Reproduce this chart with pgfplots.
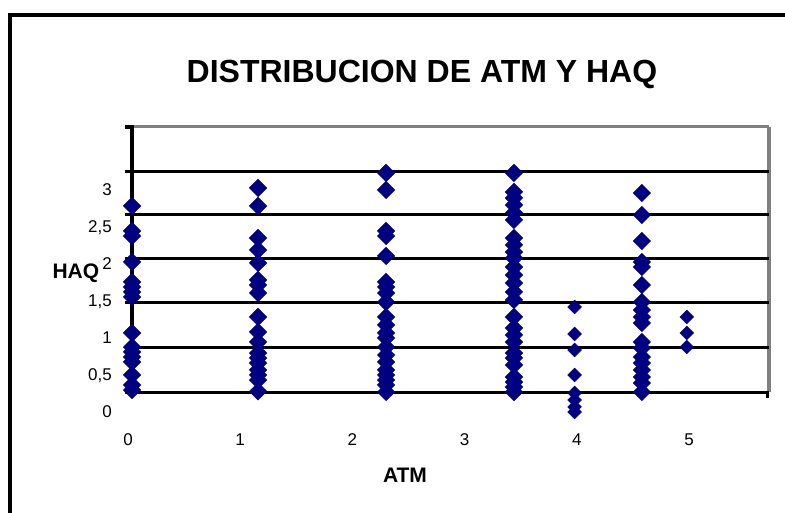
\documentclass[border=0pt]{standalone}
\usepackage{pgfplots}
\pgfplotsset{compat=1.18}
\usepackage{fontspec}
\setmainfont{Liberation Sans}
\definecolor{navy}{HTML}{000080}
\definecolor{xlgray}{HTML}{808080}

\begin{document}
\begin{tikzpicture}
% outer chart frame (cut by the page on the right and bottom)
\draw[line width=4pt] (10pt,-10pt) -- (10pt,498pt) -- (800pt,498pt);
\node[anchor=base, font=\fontsize{32}{38}\selectfont\bfseries] at (422pt,430pt) {DISTRIBUCION DE ATM Y HAQ};
\node[anchor=base west, font=\fontsize{21}{25}\selectfont\bfseries] at (49pt,234pt) {HAQ};
\node[anchor=base, font=\fontsize{21}{25}\selectfont\bfseries] at (405pt,30pt) {ATM};

\begin{axis}[
    at={(128pt,101pt)}, anchor=south west,
    scale only axis, width=641pt, height=285pt,
    xmin=0, xmax=5.713, ymin=0, ymax=3.851,
    axis line style={draw=none},
    clip=false, set layers,
    xtick={0,1,2,3,4,5},
    xticklabels={0,1,2,3,4,5},
    ytick={0,0.5,1,1.5,2,2.5,3},
    yticklabels={0,{0,5},1,{1,5},2,{2,5},3},
    major tick length=0pt,
    tick label style={font=\fontsize{17}{20}\selectfont},
    xticklabel style={anchor=base, inner sep=0pt, yshift=-34pt},
    yticklabel style={anchor=base east, inner sep=0pt, xshift=-16pt, yshift=-6pt},
    big/.style={only marks, mark=square*, mark size=6.2pt,
        mark options={rotate=45, fill=navy, draw=navy}},
    small/.style={only marks, mark=square*, mark size=4.9pt,
        mark options={rotate=45, fill=navy, draw=navy}},
    ]
\begin{pgfonlayer}{axis background}
\draw[xlgray, line width=3pt] (axis cs:0.036,3.851) -- (axis cs:5.713,3.851);
\draw[xlgray, line width=4pt] (axis cs:5.713,3.851) -- (axis cs:5.713,0.270);
\pgfplotsinvokeforeach{0.865,1.473,2.068,2.662,3.243}{
  \draw[line width=3pt] (axis cs:-0.027,#1) -- (axis cs:5.713,#1);
}
\draw[line width=3pt] (axis cs:-0.027,0.270) -- (axis cs:5.700,0.270) -- ++(0pt,-6pt);
\draw[line width=3.5pt] (axis cs:0.036,0.270) -- (axis cs:0.036,3.851) -- ++(-7pt,0pt);
\end{pgfonlayer}

% ATM 0
\addplot[big] coordinates {
 (0.036,2.784) (0.036,2.446) (0.036,2.378) (0.036,2.027) (0.036,1.757)
 (0.036,1.689) (0.036,1.622) (0.036,1.554) (0.036,1.068) (0.036,0.878)
 (0.036,0.811) (0.036,0.743) (0.036,0.676) (0.036,0.500) (0.036,0.365)
 (0.036,0.297)};
% ATM 1
\addplot[big] coordinates {
 (1.159,3.027) (1.159,2.784) (1.159,2.351) (1.159,2.189) (1.159,2.014)
 (1.159,1.784) (1.159,1.716) (1.159,1.608) (1.159,1.284) (1.159,1.081)
 (1.159,0.946) (1.159,0.797) (1.159,0.730) (1.159,0.662) (1.159,0.568)
 (1.159,0.500) (1.159,0.432) (1.159,0.280)};
% ATM 2
\addplot[big] coordinates {
 (2.300,3.230) (2.300,3.000) (2.300,2.446) (2.300,2.378) (2.300,2.108)
 (2.300,1.757) (2.300,1.689) (2.300,1.608) (2.300,1.486) (2.300,1.284)
 (2.300,1.176) (2.300,1.068) (2.300,1.000) (2.300,0.878) (2.300,0.770)
 (2.300,0.676) (2.300,0.568) (2.300,0.500) (2.300,0.432) (2.300,0.365)
 (2.300,0.270)};
% ATM 3
\addplot[big] coordinates {
 (3.440,3.230) (3.440,2.973) (3.440,2.892) (3.440,2.797) (3.440,2.689)
 (3.440,2.595) (3.440,2.351) (3.440,2.257) (3.440,2.162) (3.440,2.081)
 (3.440,1.959) (3.440,1.851) (3.440,1.743) (3.440,1.622) (3.440,1.514)
 (3.440,1.284) (3.440,1.135) (3.440,1.041) (3.440,0.946) (3.440,0.797)
 (3.440,0.730) (3.440,0.635) (3.440,0.473) (3.440,0.405) (3.440,0.338)
 (3.440,0.270)};
% ATM 4
\addplot[small] coordinates {
 (3.980,1.419) (3.980,1.054) (3.980,0.838) (3.980,0.500) (3.980,0.257)
 (3.980,0.162) (3.980,0.068) (3.980,0.000)};
% ATM 4.6
\addplot[big] coordinates {
 (4.580,2.959) (4.580,2.662) (4.580,2.311) (4.580,2.027) (4.580,1.959)
 (4.580,1.716) (4.580,1.486) (4.580,1.378) (4.580,1.284) (4.580,1.203)
 (4.580,0.946) (4.580,0.865) (4.580,0.743) (4.580,0.662) (4.580,0.568)
 (4.580,0.473) (4.580,0.392) (4.580,0.270)};
% ATM 5
\addplot[small] coordinates {
 (4.980,1.284) (4.980,1.068) (4.980,0.878)};
\end{axis}
\pgfresetboundingbox
\path[use as bounding box] (0pt,0pt) rectangle (785pt,513pt);
\end{tikzpicture}
\end{document}
